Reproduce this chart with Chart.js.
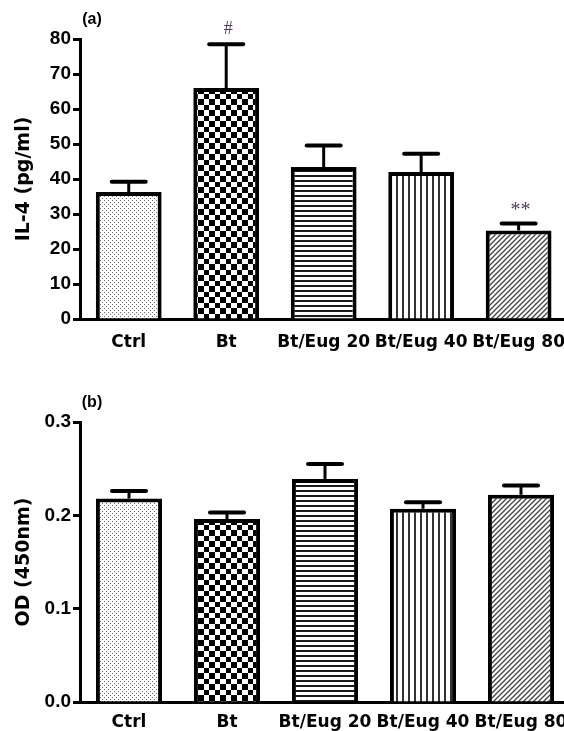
<!DOCTYPE html>
<html><head><meta charset="utf-8">
<script src="https://cdn.jsdelivr.net/npm/chart.js@4/dist/chart.umd.min.js"></script>
<style>
html,body{margin:0;padding:0;background:#fff;overflow:hidden;width:564px;height:731px;}
#page{position:relative;width:564px;height:731px;overflow:hidden;}
#wrapA{position:absolute;left:0;top:0;width:570px;height:365px;}
#wrapB{position:absolute;left:0;top:365px;width:570px;height:366px;}
canvas{display:block;}
</style></head><body>
<div id="page">
<div id="wrapA"><canvas id="cA" width="570" height="365"></canvas></div>
<div id="wrapB"><canvas id="cB" width="570" height="366"></canvas></div>
</div>
<script>
// ---- data ----
const categories = ['Ctrl', 'Bt', 'Bt/Eug 20', 'Bt/Eug 40', 'Bt/Eug 80'];
const il4Mean = [36.3, 66.0, 43.4, 42.0, 25.3];
const il4Sem = [2.9, 12.5, 6.2, 5.2, 2.0];
const il4Marks = ['', '#', '', '', '**'];
const il4Ticks = [0, 10, 20, 30, 40, 50, 60, 70, 80];
const odMean = [0.218, 0.196, 0.239, 0.207, 0.222];
const odSem = [0.008, 0.007, 0.016, 0.007, 0.010];
const odMarks = ['', '', '', '', ''];
const odTicks = [0.0, 0.1, 0.2, 0.3];

// ---- fill patterns ----
function pattern(w, h, draw) {
  const c = document.createElement('canvas');
  c.width = w; c.height = h;
  const g = c.getContext('2d');
  g.fillStyle = '#fff'; g.fillRect(0, 0, w, h);
  draw(g, w, h);
  return g.createPattern(c, 'repeat');
}
const patDots = pattern(4, 4, g => { g.fillStyle = '#666'; g.fillRect(0, 0, 1, 1); g.fillRect(2, 2, 1, 1); });
const patCheck = pattern(11, 11, g => { g.fillStyle = '#000'; g.fillRect(0, 0, 6, 6); g.fillRect(6, 6, 5, 5); });
const patHoriz = pattern(4, 5, g => { g.fillStyle = '#1a1a1a'; g.fillRect(0, 0, 4, 2); });
const patVert = pattern(6, 4, g => { g.fillStyle = '#333'; g.fillRect(0, 0, 2, 4); });
const patDiag = pattern(5, 5, g => {
  g.strokeStyle = '#444'; g.lineWidth = 1.3;
  g.beginPath(); g.moveTo(-1, 6); g.lineTo(6, -1); g.stroke();
  g.beginPath(); g.moveTo(-1, 1); g.lineTo(1, -1); g.stroke();
  g.beginPath(); g.moveTo(4, 6); g.lineTo(6, 4); g.stroke();
});
const fills = [patDots, patCheck, patHoriz, patVert, patDiag];

function overlayPlugin(sems, marks, panel, panelY) {
  return {
    id: 'overlay',
    afterDatasetsDraw(chart) {
      const ctx = chart.ctx;
      const meta = chart.getDatasetMeta(0);
      const ys = chart.scales.y;
      const data = chart.data.datasets[0].data;
      ctx.save();
      meta.data.forEach((bar, i) => {
        const top = ys.getPixelForValue(data[i] + sems[i]);
        ctx.strokeStyle = '#000';
        ctx.lineCap = 'butt';
        ctx.lineWidth = 3;
        ctx.beginPath(); ctx.moveTo(bar.x, bar.y); ctx.lineTo(bar.x, top); ctx.stroke();
        ctx.lineCap = 'round';
        ctx.lineWidth = 4;
        ctx.beginPath(); ctx.moveTo(bar.x - 17, top); ctx.lineTo(bar.x + 17, top); ctx.stroke();
        if (marks[i]) {
          ctx.fillStyle = '#4b3f5c';
          ctx.textAlign = 'center';
          ctx.textBaseline = 'middle';
          ctx.font = marks[i] === '#' ? '18px "Liberation Serif"' : '20px "Liberation Serif"';
          ctx.fillText(marks[i], bar.x + 2, marks[i] === '#' ? top - 15 : top - 13);
        }
      });
      ctx.fillStyle = '#000';
      ctx.font = 'bold 16px "Liberation Sans"';
      ctx.textAlign = 'center';
      ctx.textBaseline = 'middle';
      ctx.fillText(panel, 92, panelY);
      ctx.restore();
    }
  };
}

function makeChart(id, means, sems, marks, o) {
  return new Chart(document.getElementById(id), {
    type: 'bar',
    data: {
      labels: categories,
      datasets: [{
        data: means,
        backgroundColor: fills,
        borderColor: '#000',
        borderWidth: 4,
        borderSkipped: 'start',
        barPercentage: 0.675,
        categoryPercentage: 1
      }]
    },
    options: {
      responsive: false,
      animation: false,
      layout: { padding: { top: o.padTop, left: 0, right: 0, bottom: 0 } },
      plugins: { legend: { display: false }, tooltip: { enabled: false } },
      scales: {
        x: {
          ticks: { color: '#000', font: { family: 'DejaVu Sans', weight: 'bold', size: 17 }, padding: o.xPad, autoSkip: false, maxRotation: 0, minRotation: 0 },
          grid: { display: false },
          border: { display: true, color: '#000', width: 3 },
          afterFit(s) { s.height = o.xHeight; }
        },
        y: {
          min: o.ticks[0], max: o.ticks[o.ticks.length - 1],
          afterBuildTicks(s) { s.ticks = o.ticks.map(v => ({ value: v })); },
          ticks: { color: '#000', font: { family: 'Liberation Sans', weight: 'bold', size: 19 }, padding: 2, callback: o.fmt },
          grid: { drawOnChartArea: false, drawTicks: true, tickLength: 7, tickWidth: 3, tickColor: '#000' },
          border: { display: true, color: '#000', width: 3 },
          title: { display: true, text: o.title, color: '#000', font: { family: 'DejaVu Sans', weight: 'bold', size: 19 }, padding: { top: 13, bottom: 0 } },
          afterFit(s) { s.width = 80; }
        }
      }
    },
    plugins: [overlayPlugin(sems, marks, o.panel, o.panelY)]
  });
}

makeChart('cA', il4Mean, il4Sem, il4Marks, {
  padTop: 39, xHeight: 46, xPad: 5, ticks: il4Ticks, fmt: v => String(v),
  title: 'IL-4 (pg/ml)', panel: '(a)', panelY: 20
});
makeChart('cB', odMean, odSem, odMarks, {
  padTop: 57, xHeight: 29, xPad: 2, ticks: odTicks, fmt: v => Number(v).toFixed(1),
  title: 'OD (450nm)', panel: '(b)', panelY: 38
});
</script>
</body></html>
